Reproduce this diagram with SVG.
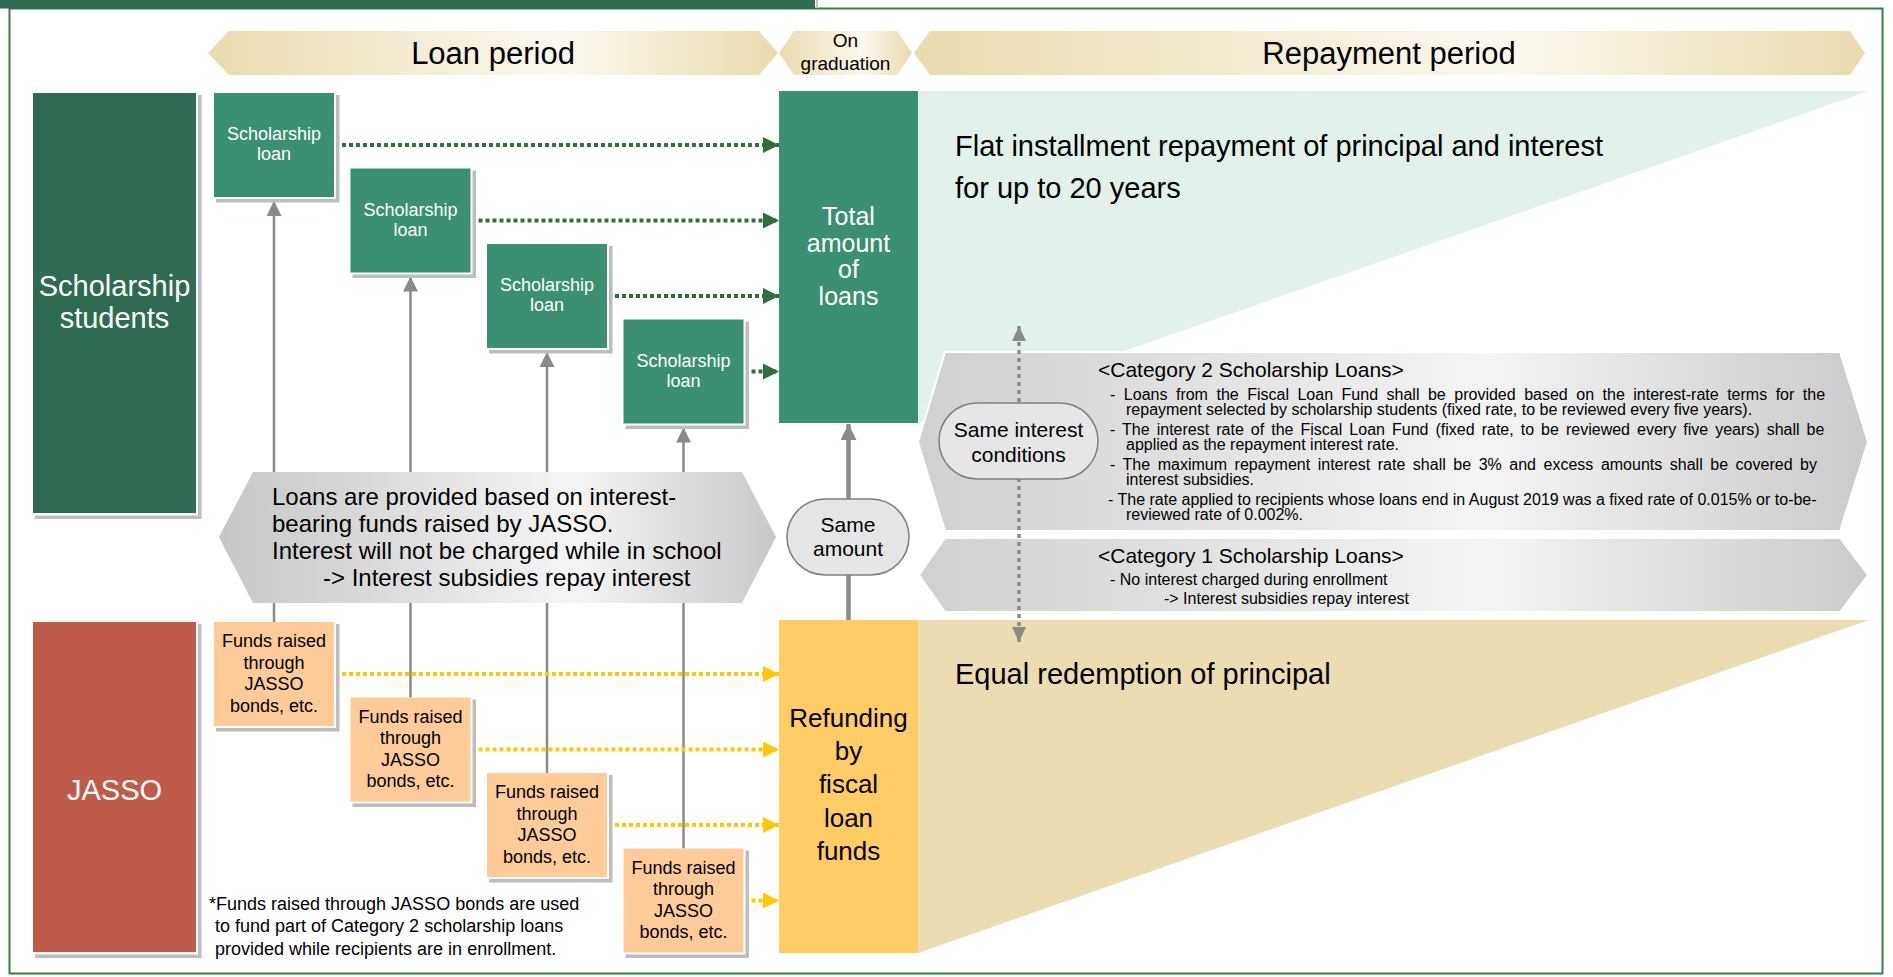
<svg xmlns="http://www.w3.org/2000/svg" width="1893" height="977" viewBox="0 0 1893 977">
<style>
text { font-family: "Liberation Sans", Arial, sans-serif; }
.w { fill: #ffffff; }
.k { fill: #000000; }
.mid { text-anchor: middle; }
.loan { fill: #3A9070; }
.fund { fill: #FFCC99; }
.shadow { fill: #BDBDBD; }
.dotg { stroke: #2F6E3D; stroke-width: 4; stroke-dasharray: 4 3; fill: none; }
.doty { stroke: #FFC800; stroke-width: 4; stroke-dasharray: 4 3; fill: none; }
.up { stroke: #8A8A8A; stroke-width: 2.5; fill: none; }
.oval { fill: #E6E6E6; stroke: #7F7F7F; stroke-width: 1.5; }
.f16 { font-size: 16px; }
.f18 { font-size: 18px; }
.f21 { font-size: 21px; }
.f24 { font-size: 24px; }
</style>
<defs>
<linearGradient id="gBeige" x1="0" y1="0" x2="1" y2="0">
<stop offset="0" stop-color="#EADBAE"/><stop offset="0.62" stop-color="#FBF8EF"/><stop offset="1" stop-color="#EADBAE"/>
</linearGradient>
<linearGradient id="gGray" x1="0" y1="0" x2="1" y2="0">
<stop offset="0" stop-color="#C6C6C6"/><stop offset="0.64" stop-color="#F5F5F5"/><stop offset="1" stop-color="#C8C8C8"/>
</linearGradient>
<linearGradient id="gCat" x1="0" y1="0" x2="1" y2="0">
<stop offset="0" stop-color="#D0D0D0"/><stop offset="0.6" stop-color="#F4F4F4"/><stop offset="1" stop-color="#CACACA"/>
</linearGradient>
<marker id="ahG" markerUnits="userSpaceOnUse" markerWidth="16" markerHeight="16" viewBox="0 0 16 16" refX="16" refY="8" orient="auto"><path d="M0,0 L16,8 L0,16 z" fill="#2F6E3D"/></marker>
<marker id="ahY" markerUnits="userSpaceOnUse" markerWidth="16" markerHeight="16" viewBox="0 0 16 16" refX="16" refY="8" orient="auto"><path d="M0,0 L16,8 L0,16 z" fill="#FFC800"/></marker>
<marker id="ahGray" markerUnits="userSpaceOnUse" markerWidth="15" markerHeight="15" viewBox="0 0 15 15" refX="15" refY="7.5" orient="auto"><path d="M0,0 L15,7.5 L0,15 z" fill="#8A8A8A"/></marker>
<marker id="ahGrayD" markerUnits="userSpaceOnUse" markerWidth="15" markerHeight="14" viewBox="0 0 15 14" refX="15" refY="7" orient="auto-start-reverse"><path d="M0,0 L15,7 L0,14 z" fill="#8A8A8A"/></marker>
<marker id="ahBig" markerUnits="userSpaceOnUse" markerWidth="16" markerHeight="16" viewBox="0 0 16 16" refX="16" refY="8" orient="auto"><path d="M0,0 L16,8 L0,16 z" fill="#8A8A8A"/></marker>
</defs>

<!-- frame and header -->
<rect x="0" y="0" width="1893" height="977" fill="#ffffff"/>
<rect x="9.5" y="8.5" width="1873" height="965" fill="none" stroke="#3A7D44" stroke-width="2"/>
<rect x="0" y="0" width="815" height="8.5" fill="#2E6B50"/>
<line x1="817" y1="0" x2="817" y2="8" stroke="#C4C4C4" stroke-width="2"/>

<!-- repayment triangles -->
<polygon id="tri-interest" points="918,91 1869,91 918,423" fill="#E2F1EA"/>
<polygon id="tri-principal" points="918,620 1869,620 918,953" fill="#EBDDB1"/>

<!-- period banners -->
<g id="banner-loan">
<polygon points="208,53 229,31 759,31 778,53 759,75 229,75" fill="url(#gBeige)"/>
<text class="k mid" x="493" y="64" font-size="31">Loan period</text>
</g>
<g id="banner-grad">
<polygon points="779,53 794,31 897,31 912,53 897,75 794,75" fill="url(#gBeige)"/>
<text class="k mid" x="845.5" y="47" font-size="19">On</text>
<text class="k mid" x="845.5" y="70" font-size="19">graduation</text>
</g>
<g id="banner-repay">
<polygon points="914,53 930,31 1850,31 1865,53 1850,75 930,75" fill="url(#gBeige)"/>
<text class="k mid" x="1389" y="64" font-size="31">Repayment period</text>
</g>

<!-- category boxes -->
<g id="category2">
<polygon points="918,442 945,352 1840,352 1868,442 1840,531 945,531" fill="url(#gCat)" stroke="#ffffff" stroke-width="2"/>
<text class="k f21" x="1098" y="377">&lt;Category 2 Scholarship Loans&gt;</text>
<text class="k f16" x="1110" y="400" word-spacing="4.06">- Loans from the Fiscal Loan Fund shall be provided based on the interest-rate terms for the</text>
<text class="k f16" x="1126" y="415">repayment selected by scholarship students (fixed rate, to be reviewed every five years).</text>
<text class="k f16" x="1110" y="435" word-spacing="2.6">- The interest rate of the Fiscal Loan Fund (fixed rate, to be reviewed every five years) shall be</text>
<text class="k f16" x="1126" y="450">applied as the repayment interest rate.</text>
<text class="k f16" x="1110" y="470" word-spacing="3.1">- The maximum repayment interest rate shall be 3% and excess amounts shall be covered by</text>
<text class="k f16" x="1126" y="485">interest subsidies.</text>
<text class="k f16" x="1108" y="505">- The rate applied to recipients whose loans end in August 2019 was a fixed rate of 0.015% or to-be-</text>
<text class="k f16" x="1126" y="520">reviewed rate of 0.002%.</text>
</g>
<g id="category1">
<polygon points="919,575 945,538 1840,538 1868,575 1840,612 945,612" fill="url(#gCat)" stroke="#ffffff" stroke-width="2"/>
<text class="k f21" x="1098" y="563">&lt;Category 1 Scholarship Loans&gt;</text>
<text class="k f16" x="1110" y="585">- No interest charged during enrollment</text>
<text class="k f16" x="1164" y="604">-&gt; Interest subsidies repay interest</text>
</g>

<!-- connectors -->
<g id="connectors">
<line class="up" x1="274" y1="622" x2="274" y2="201" marker-end="url(#ahGray)"/>
<line class="up" x1="410.5" y1="697.5" x2="410.5" y2="276.5" marker-end="url(#ahGray)"/>
<line class="up" x1="547" y1="773" x2="547" y2="352" marker-end="url(#ahGray)"/>
<line class="up" x1="683.5" y1="848.5" x2="683.5" y2="427.5" marker-end="url(#ahGray)"/>
<line class="dotg" x1="342" y1="145" x2="779" y2="145" marker-end="url(#ahG)"/>
<line class="dotg" x1="478.5" y1="220.5" x2="779" y2="220.5" marker-end="url(#ahG)"/>
<line class="dotg" x1="615" y1="296" x2="779" y2="296" marker-end="url(#ahG)"/>
<line class="dotg" x1="751.5" y1="371.5" x2="779" y2="371.5" marker-end="url(#ahG)"/>
<line class="doty" x1="342" y1="674" x2="779" y2="674" marker-end="url(#ahY)"/>
<line class="doty" x1="478.5" y1="749.5" x2="779" y2="749.5" marker-end="url(#ahY)"/>
<line class="doty" x1="615" y1="825" x2="779" y2="825" marker-end="url(#ahY)"/>
<line class="doty" x1="751.5" y1="900.5" x2="779" y2="900.5" marker-end="url(#ahY)"/>
<line x1="848.5" y1="620" x2="848.5" y2="424" stroke="#8A8A8A" stroke-width="4.5" marker-end="url(#ahBig)"/>
<line x1="1019" y1="642" x2="1019" y2="326" stroke="#8A8A8A" stroke-width="3.5" stroke-dasharray="4 4" marker-start="url(#ahGrayD)" marker-end="url(#ahGrayD)"/>
</g>

<!-- left actor boxes -->
<g id="scholarship-students">
<path class="shadow" d="M198,95 h3.5 v424 H35 v-3.5 H198 z"/>
<rect x="33" y="93" width="163" height="420" fill="#2E6B50"/>
<text class="w mid" x="114.5" y="296" font-size="29">Scholarship</text>
<text class="w mid" x="114.5" y="328" font-size="29">students</text>
</g>
<g id="jasso">
<path class="shadow" d="M198,624 h3.5 v334 H35 v-3.5 H198 z"/>
<rect x="33" y="622" width="163" height="330" fill="#BF5B4B"/>
<text class="w mid" x="114.5" y="800" font-size="29">JASSO</text>
</g>

<!-- scholarship loans -->
<g id="loan1">
<path class="shadow" d="M336,95 h3.5 v107.5 H216 v-3.5 H336 z"/>
<rect class="loan" x="214" y="93" width="120" height="104"/>
<text class="w mid f18" x="274" y="140">Scholarship</text>
<text class="w mid f18" x="274" y="160">loan</text>
</g>
<g id="loan2">
<path class="shadow" d="M472.5,170.5 h3.5 v107.5 H352.5 v-3.5 H472.5 z"/>
<rect class="loan" x="350.5" y="168.5" width="120" height="104"/>
<text class="w mid f18" x="410.5" y="215.5">Scholarship</text>
<text class="w mid f18" x="410.5" y="235.5">loan</text>
</g>
<g id="loan3">
<path class="shadow" d="M609,246 h3.5 v107.5 H489 v-3.5 H609 z"/>
<rect class="loan" x="487" y="244" width="120" height="104"/>
<text class="w mid f18" x="547" y="291">Scholarship</text>
<text class="w mid f18" x="547" y="311">loan</text>
</g>
<g id="loan4">
<path class="shadow" d="M745.5,321.5 h3.5 v107.5 H625.5 v-3.5 H745.5 z"/>
<rect class="loan" x="623.5" y="319.5" width="120" height="104"/>
<text class="w mid f18" x="683.5" y="366.5">Scholarship</text>
<text class="w mid f18" x="683.5" y="386.5">loan</text>
</g>

<!-- funds -->
<g id="fund1">
<path class="shadow" d="M336,624 h3.5 v107.5 H216 v-3.5 H336 z"/>
<rect class="fund" x="214" y="622" width="120" height="104"/>
<text class="k mid f18" x="274" y="647">Funds raised</text>
<text class="k mid f18" x="274" y="668.5">through</text>
<text class="k mid f18" x="274" y="690">JASSO</text>
<text class="k mid f18" x="274" y="711.5">bonds, etc.</text>
</g>
<g id="fund2">
<path class="shadow" d="M472.5,699.5 h3.5 v107.5 H352.5 v-3.5 H472.5 z"/>
<rect class="fund" x="350.5" y="697.5" width="120" height="104"/>
<text class="k mid f18" x="410.5" y="722.5">Funds raised</text>
<text class="k mid f18" x="410.5" y="744">through</text>
<text class="k mid f18" x="410.5" y="765.5">JASSO</text>
<text class="k mid f18" x="410.5" y="787">bonds, etc.</text>
</g>
<g id="fund3">
<path class="shadow" d="M609,775 h3.5 v107.5 H489 v-3.5 H609 z"/>
<rect class="fund" x="487" y="773" width="120" height="104"/>
<text class="k mid f18" x="547" y="798">Funds raised</text>
<text class="k mid f18" x="547" y="819.5">through</text>
<text class="k mid f18" x="547" y="841">JASSO</text>
<text class="k mid f18" x="547" y="862.5">bonds, etc.</text>
</g>
<g id="fund4">
<path class="shadow" d="M745.5,850.5 h3.5 v107.5 H625.5 v-3.5 H745.5 z"/>
<rect class="fund" x="623.5" y="848.5" width="120" height="104"/>
<text class="k mid f18" x="683.5" y="873.5">Funds raised</text>
<text class="k mid f18" x="683.5" y="895">through</text>
<text class="k mid f18" x="683.5" y="916.5">JASSO</text>
<text class="k mid f18" x="683.5" y="938">bonds, etc.</text>
</g>

<!-- interest note hexagon -->
<g id="interest-note">
<polygon points="219,537 253,472 742,472 776,537 742,603 253,603" fill="url(#gGray)"/>
<text class="k f24" x="272" y="505">Loans are provided based on interest-</text>
<text class="k f24" x="272" y="532">bearing funds raised by JASSO.</text>
<text class="k f24" x="272" y="559">Interest will not be charged while in school</text>
<text class="k f24" x="323" y="586">-&gt; Interest subsidies repay interest</text>
</g>

<!-- graduation boxes -->
<g id="total-loans">
<rect x="779" y="91" width="139" height="332" fill="#3A9070"/>
<text class="w mid" x="848.5" y="225" font-size="25">Total</text>
<text class="w mid" x="848.5" y="252" font-size="25">amount</text>
<text class="w mid" x="848.5" y="278" font-size="25">of</text>
<text class="w mid" x="848.5" y="305" font-size="25">loans</text>
</g>
<g id="refunding">
<rect x="779" y="620" width="139" height="333" fill="#FFCC66"/>
<text class="k mid" x="848.5" y="727" font-size="26">Refunding</text>
<text class="k mid" x="848.5" y="760" font-size="26">by</text>
<text class="k mid" x="848.5" y="793" font-size="26">fiscal</text>
<text class="k mid" x="848.5" y="827" font-size="26">loan</text>
<text class="k mid" x="848.5" y="860" font-size="26">funds</text>
</g>

<g id="same-amount">
<rect class="oval" x="787" y="499" width="122" height="76" rx="38" ry="38"/>
<text class="k mid f21" x="848" y="532">Same</text>
<text class="k mid f21" x="848" y="556">amount</text>
</g>
<g id="same-interest">
<rect class="oval" x="939" y="403" width="159" height="76" rx="38" ry="38"/>
<text class="k mid f21" x="1018.5" y="437">Same interest</text>
<text class="k mid f21" x="1018.5" y="462">conditions</text>
</g>

<!-- repayment labels -->
<g id="label-interest">
<text class="k" x="955" y="156" font-size="29">Flat installment repayment of principal and interest</text>
<text class="k" x="955" y="198" font-size="29">for up to 20 years</text>
</g>
<g id="label-principal">
<text class="k" x="955" y="684" font-size="29">Equal redemption of principal</text>
</g>

<g id="footnote">
<text class="k f18" x="209" y="910">*Funds raised through JASSO bonds are used</text>
<text class="k f18" x="215" y="932">to fund part of Category 2 scholarship loans</text>
<text class="k f18" x="215" y="955">provided while recipients are in enrollment.</text>
</g>
</svg>
